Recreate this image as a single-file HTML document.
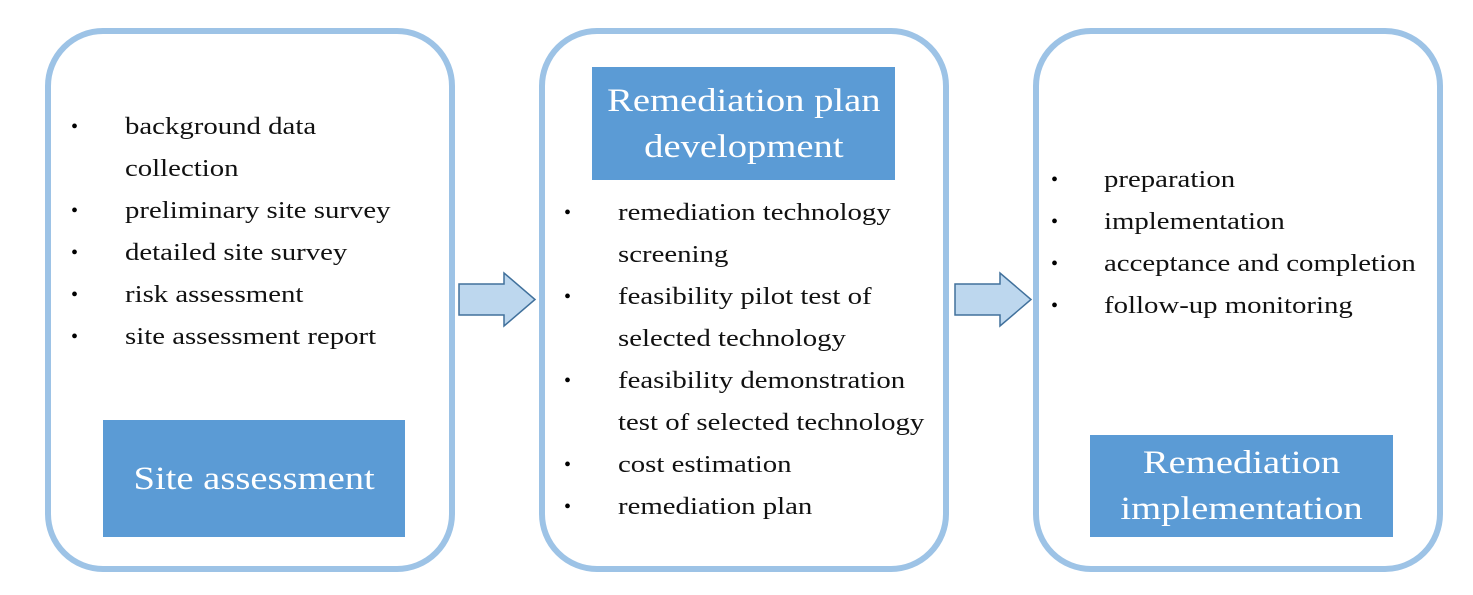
<!DOCTYPE html>
<html><head><style>
body{margin:0;width:1473px;height:595px;background:#fff;position:relative;overflow:hidden;font-family:"Liberation Serif",serif;}
.box{position:absolute;border:6px solid #9dc3e6;border-radius:58px;box-sizing:border-box;top:28px;height:544px;}
.lab{position:absolute;background:#5b9bd5;color:#fff;text-align:center;display:flex;align-items:center;justify-content:center;font-size:33px;line-height:46px;}
.lab span{display:inline-block;transform:scaleX(1.17);}
.li{position:absolute;font-size:24px;color:#111;white-space:nowrap;line-height:42px;transform:scaleX(1.2);transform-origin:0 0;}
.b{position:absolute;font-size:20px;line-height:42px;}
</style></head><body>
<div class="box" style="left:45px;width:410px"></div>
<div class="box" style="left:539px;width:410px"></div>
<div class="box" style="left:1033px;width:410px"></div>

<div class="lab" style="left:103px;top:420px;width:302px;height:117px"><span>Site assessment</span></div>
<div class="lab" style="left:592px;top:67px;width:303px;height:113px"><span>Remediation plan<br>development</span></div>
<div class="lab" style="left:1090px;top:435px;width:303px;height:102px"><span>Remediation<br>implementation</span></div>

<svg style="position:absolute;left:0;top:0" width="1473" height="595">
<path d="M459,284 H504 V273 L535,299.5 L504,326 V315 H459 Z" fill="#bdd7ee" stroke="#41719c" stroke-width="1.5"/>
<path d="M955,284 H1000 V273 L1031,299.5 L1000,326 V315 H955 Z" fill="#bdd7ee" stroke="#41719c" stroke-width="1.5"/>
</svg>

<div class="b" style="left:71px;top:106px">•<br><br>•<br>•<br>•<br>•</div>
<div class="li" style="left:125px;top:106px">background data<br>collection<br>preliminary site survey<br>detailed site survey<br>risk assessment<br>site assessment report</div>

<div class="b" style="left:564px;top:192px">•<br><br>•<br><br>•<br><br>•<br>•</div>
<div class="li" style="left:618px;top:192px">remediation technology<br>screening<br>feasibility pilot test of<br>selected technology<br>feasibility demonstration<br>test of selected technology<br>cost estimation<br>remediation plan</div>

<div class="b" style="left:1051px;top:159px">•<br>•<br>•<br>•</div>
<div class="li" style="left:1104px;top:159px">preparation<br>implementation<br>acceptance and completion<br>follow-up monitoring</div>
</body></html>
